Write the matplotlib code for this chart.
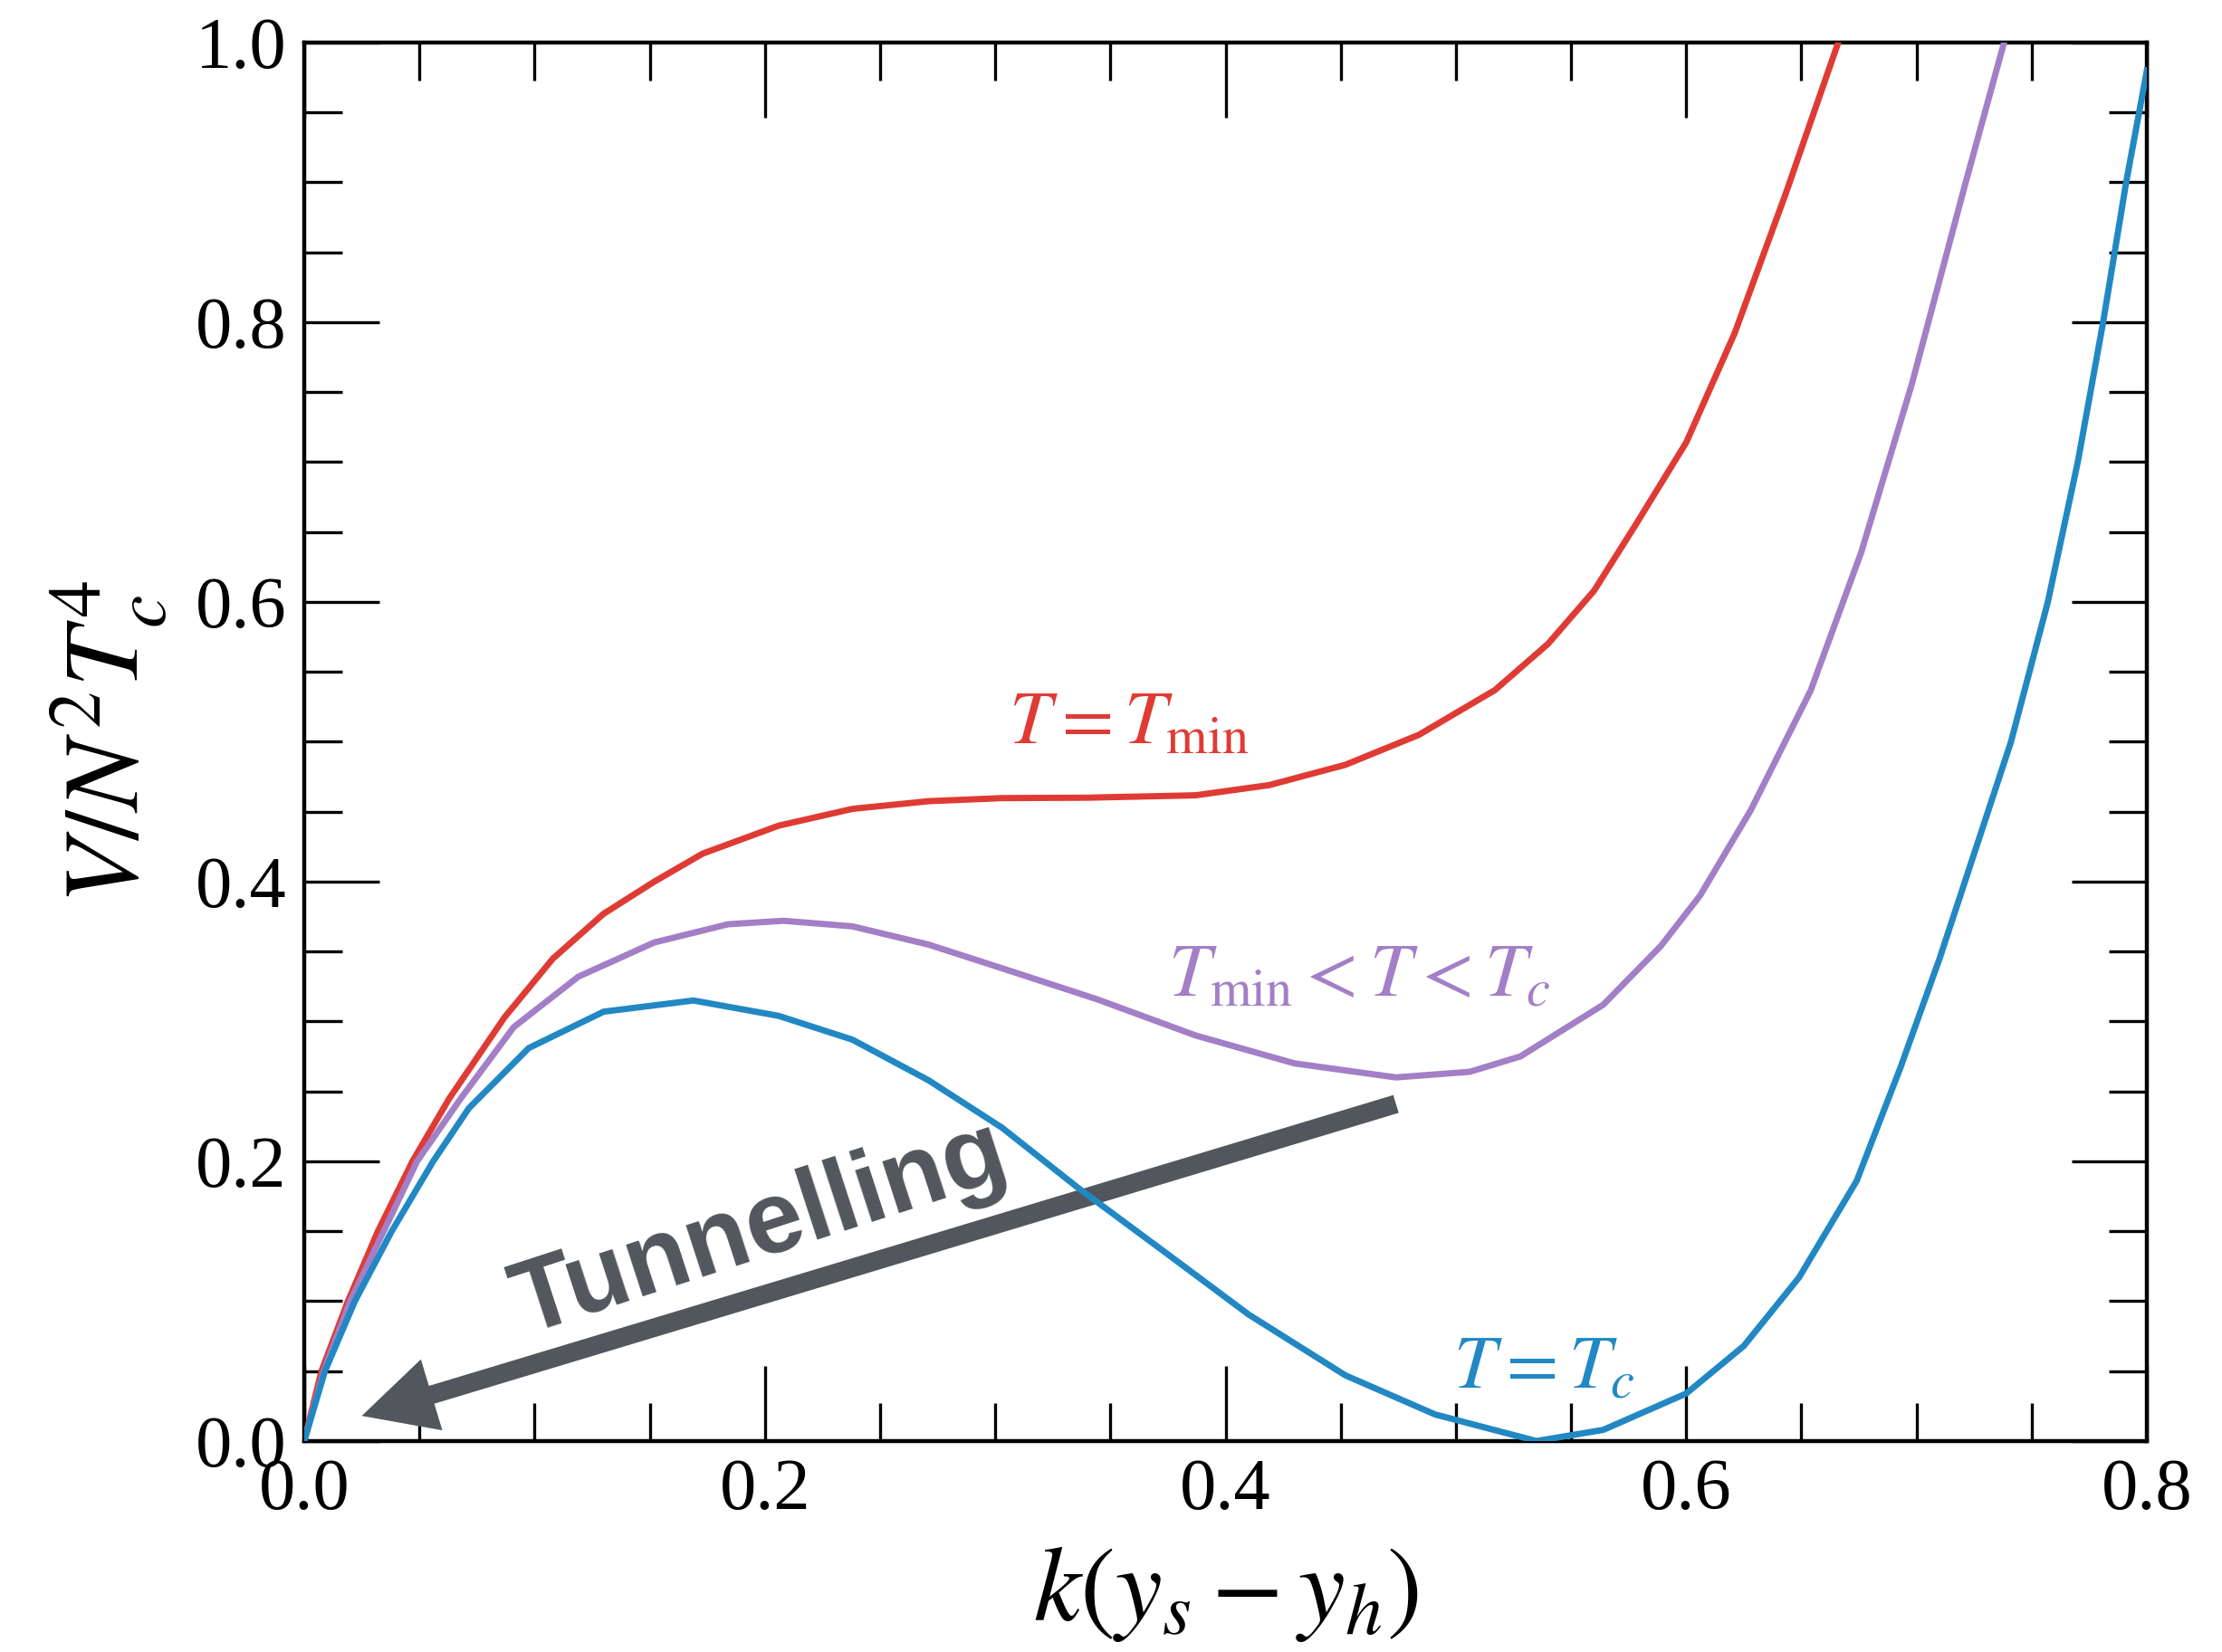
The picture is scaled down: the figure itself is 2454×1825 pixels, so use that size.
import matplotlib
matplotlib.use("Agg")
import matplotlib.pyplot as plt
from matplotlib.ticker import MultipleLocator, FormatStrFormatter

plt.rcParams['mathtext.fontset'] = 'stix'
plt.rcParams['font.family'] = 'serif'
plt.rcParams['font.serif'] = ['Liberation Serif', 'DejaVu Serif']

# values: k(y_s - y_h) vs V/N^2 T_c^4
x_tmin = [0.000, 0.0075, 0.019, 0.032, 0.047, 0.063, 0.087, 0.108, 0.130, 0.152,
          0.173, 0.206, 0.238, 0.271, 0.303, 0.340, 0.387, 0.419, 0.452, 0.484,
          0.517, 0.540, 0.560, 0.578, 0.600, 0.621, 0.643, 0.666]
v_tmin = [0.000, 0.050, 0.100, 0.150, 0.200, 0.245, 0.303, 0.345, 0.377, 0.400,
          0.420, 0.440, 0.452, 0.4575, 0.4597, 0.460, 0.4617, 0.469, 0.4835, 0.505,
          0.537, 0.570, 0.608, 0.655, 0.714, 0.792, 0.891, 1.000]

x_mid = [0.000, 0.0085, 0.020, 0.0345, 0.049, 0.068, 0.091, 0.119, 0.152, 0.184,
         0.208, 0.238, 0.271, 0.303, 0.344, 0.387, 0.430, 0.474, 0.506, 0.528,
         0.564, 0.589, 0.606, 0.628, 0.654, 0.676, 0.698, 0.721, 0.738]
v_mid = [0.000, 0.050, 0.100, 0.150, 0.200, 0.245, 0.296, 0.332, 0.3565, 0.3695,
         0.372, 0.368, 0.355, 0.338, 0.316, 0.290, 0.270, 0.260, 0.264, 0.275,
         0.312, 0.354, 0.390, 0.451, 0.5365, 0.6356, 0.756, 0.898, 1.000]

x_tc = [0.000, 0.009, 0.022, 0.038, 0.056, 0.0715, 0.0975, 0.130, 0.169, 0.206,
        0.238, 0.271, 0.303, 0.336, 0.377, 0.410, 0.452, 0.491, 0.535, 0.564,
        0.600, 0.625, 0.649, 0.674, 0.693, 0.710, 0.720, 0.731, 0.741, 0.757,
        0.770, 0.781, 0.791, 0.800]
v_tc = [0.000, 0.050, 0.100, 0.150, 0.200, 0.238, 0.281, 0.307, 0.315, 0.304,
        0.287, 0.258, 0.224, 0.181, 0.131, 0.0905, 0.047, 0.019, 0.000, 0.008,
        0.034, 0.068, 0.117, 0.186, 0.267, 0.345, 0.395, 0.450, 0.500, 0.600,
        0.700, 0.800, 0.900, 0.980]

red = '#df3b34'
purple = '#a27fc6'
blue = '#2188c4'
gray = '#52575d'

fig = plt.figure(figsize=(12.27, 9.125), dpi=200)
ax = fig.add_axes([0.1369, 0.1277, 0.8293, 0.8466])

for xs, vs, c in [(x_tmin, v_tmin, red), (x_mid, v_mid, purple), (x_tc, v_tc, blue)]:
    ax.plot(xs, vs, color=c, lw=2.5, solid_joinstyle='round', zorder=3)

ax.text(0.306, 0.499, r'$T = T_{\min}$', color=red, fontsize=30,
        ha='left', va='baseline')
ax.text(0.375, 0.318, r'$T_{\min} < T < T_c$', color=purple, fontsize=30,
        ha='left', va='baseline')
ax.text(0.499, 0.038, r'$T = T_c$', color=blue, fontsize=30,
        ha='left', va='baseline')

# tunnelling arrow
ax.annotate('', xy=(0.025, 0.018), xytext=(0.474, 0.241),
            arrowprops=dict(width=7.4, headwidth=29.5, headlength=29, shrink=0,
                            color=gray, linewidth=0),
            zorder=2)
ax.text(0.198, 0.151, 'Tunnelling', color=gray, fontsize=41, fontweight='bold',
        family='Liberation Sans', rotation=18, rotation_mode='anchor',
        ha='center', va='center', zorder=2)

ax.set_xlim(0, 0.8)
ax.set_ylim(0, 1.0)
ax.xaxis.set_major_locator(MultipleLocator(0.2))
ax.xaxis.set_minor_locator(MultipleLocator(0.05))
ax.yaxis.set_major_locator(MultipleLocator(0.2))
ax.yaxis.set_minor_locator(MultipleLocator(0.05))
ax.xaxis.set_major_formatter(FormatStrFormatter('%.1f'))
ax.yaxis.set_major_formatter(FormatStrFormatter('%.1f'))

ax.tick_params(which='both', direction='in', top=True, right=True, width=1.2)
ax.tick_params(which='major', length=30, labelsize=29)
ax.tick_params(which='minor', length=15)
ax.tick_params(axis='x', pad=7)
ax.tick_params(axis='y', pad=7)
for s in ax.spines.values():
    s.set_linewidth(1.6)

ax.set_xlabel(r'$k(y_s - y_h)$', fontsize=42)
ax.set_ylabel(r'$V/N^2T_c^4$', fontsize=42)
ax.xaxis.set_label_coords(0.5, -0.074)
ax.yaxis.set_label_coords(-0.073, 0.5)

fig.savefig('out.png', dpi=200)
